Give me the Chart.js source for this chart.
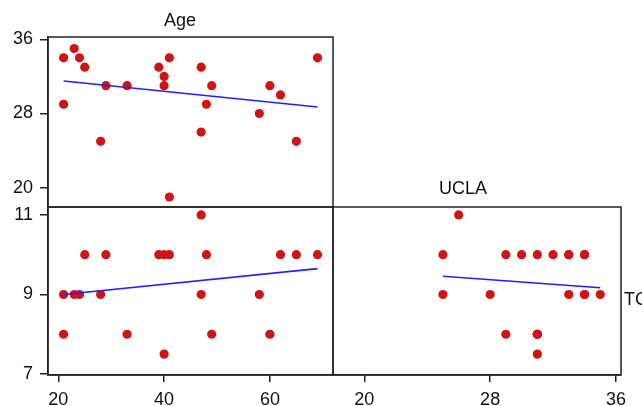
<!DOCTYPE html>
<html>
<head>
<meta charset="utf-8">
<script src="https://cdn.jsdelivr.net/npm/chart.js@4.4.1/dist/chart.umd.min.js"></script>
<style>
  html, body { margin: 0; padding: 0; background: #fff; width: 642px; height: 406px; overflow: hidden; }
  canvas { position: absolute; left: 0; top: 0; }
  .lbl { position: absolute; font-family: "Liberation Sans", Arial, sans-serif; font-size: 18px; line-height: 18px; color: #111; white-space: nowrap; }
</style>
</head>
<body>
<canvas id="cA" width="642" height="406"></canvas>
<canvas id="cB" width="642" height="406"></canvas>
<canvas id="cC" width="642" height="406"></canvas>
<div class="lbl" id="tAge" style="left:164px; top:11px;">Age</div>
<div class="lbl" id="tUCLA" style="left:439px; top:179px;">UCLA</div>
<div class="lbl" id="tTC" style="left:624px; top:290px;">TC</div>
<script>
// Subjects (one entry per person)
const age  = [21, 21, 23, 24, 25, 28, 29, 33, 39, 40, 40, 41, 41, 47, 47, 48, 49, 58, 60, 62, 65, 69];
const ucla = [34, 29, 35, 34, 33, 25, 31, 31, 33, 32, 31, 34, 19, 33, 26, 29, 31, 28, 31, 30, 25, 34];
const tc   = [9, 8, 9, 9, 10, 9, 10, 8, 10, 10, 7.5, 10, null, 9, 11, 10, 8, 9, 8, 10, 10, 10];

// Fitted lines (endpoints)
const fitAgeUcla = { x: [21, 69], y: [31.5, 28.7] };
const fitAgeTc   = { x: [21, 69], y: [9.0, 9.65] };
const fitUclaTc  = { x: [25, 35], y: [9.46, 9.17] };

// Tick labels
const ticksAge  = [20, 40, 60];
const ticksUcla = [20, 28, 36];
const ticksTc   = [7, 9, 11];

const DOT = '#d01414';
const LINE = '#2020ff';
const AXIS = '#222';
const FONT = { family: '"Liberation Sans", Arial, sans-serif', size: 18 };

function pts(xs, ys) {
  const out = [];
  for (let i = 0; i < xs.length; i++) if (xs[i] != null && ys[i] != null) out.push({ x: xs[i], y: ys[i] });
  return out;
}

const boxPlugin = {
  id: 'box',
  afterDraw(chart) {
    const a = chart.chartArea, ctx = chart.ctx;
    ctx.save();
    ctx.strokeStyle = AXIS;
    ctx.lineWidth = 1.5;
    ctx.strokeRect(a.left, a.top, a.right - a.left, a.bottom - a.top);
    ctx.restore();
  }
};

function axis(min, max, ticks, tickLen, opts) {
  return Object.assign({
    type: 'linear', min: min, max: max,
    afterBuildTicks: s => { s.ticks = ticks.map(v => ({ value: v })); },
    ticks: { color: '#111', font: FONT, padding: 7, autoSkip: false, maxRotation: 0 },
    grid: { drawOnChartArea: false, drawTicks: true, tickLength: tickLen, color: AXIS, lineWidth: 1.5 },
    border: { display: true, color: AXIS, width: 1.5 }
  }, opts);
}

function makeChart(id, scatter, fit, xs, ys, padding) {
  return new Chart(document.getElementById(id), {
    type: 'scatter',
    data: {
      datasets: [
        { data: scatter, backgroundColor: DOT, borderColor: DOT, pointRadius: 4.6, pointBorderWidth: 0, order: 2 },
        { type: 'line', data: pts(fit.x, fit.y), borderColor: LINE, borderWidth: 1.6, pointRadius: 0, fill: false, order: 1 }
      ]
    },
    options: {
      responsive: false, animation: false, events: [],
      layout: { padding: padding },
      plugins: { legend: { display: false }, tooltip: { enabled: false } },
      scales: { x: xs, y: ys }
    },
    plugins: [boxPlugin]
  });
}

// Top-left: Age (x) vs UCLA (y)
makeChart('cA', pts(age, ucla), fitAgeUcla,
  axis(18.05, 71.93, ticksAge, 7, { display: false }),
  axis(17.92, 36.25, ticksUcla, 8, { afterFit: s => { s.width = 48; } }),
  { left: 0, top: 37, right: 309, bottom: 199 });

// Bottom-left: Age (x) vs TC (y)
makeChart('cB', pts(age, tc), fitAgeTc,
  axis(18.05, 71.93, ticksAge, 7, { afterFit: s => { s.height = 31; } }),
  axis(6.975, 11.2, ticksTc, 8, { afterFit: s => { s.width = 48; } }),
  { left: 0, top: 207, right: 309, bottom: 0 });

// Bottom-right: UCLA (x) vs TC (y)
makeChart('cC', pts(ucla, tc), fitUclaTc,
  axis(18.01, 36.32, ticksUcla, 7, { afterFit: s => { s.height = 31; } }),
  axis(6.975, 11.2, ticksTc, 8, { display: false }),
  { left: 333, top: 207, right: 21, bottom: 0 });
</script>
</body>
</html>
